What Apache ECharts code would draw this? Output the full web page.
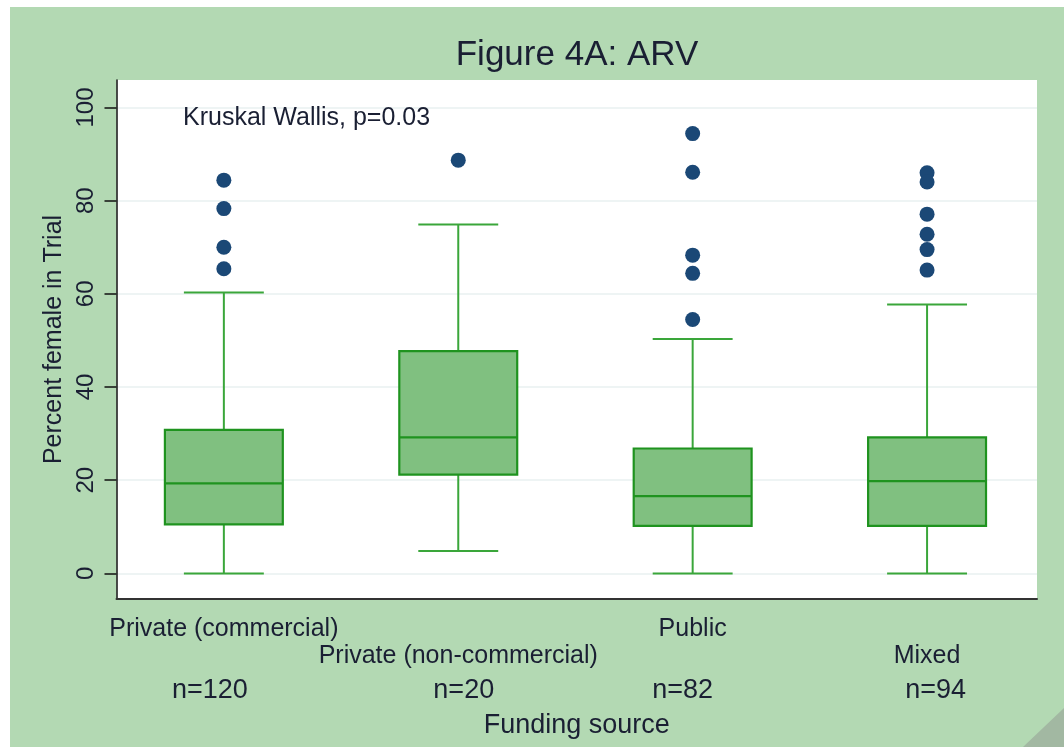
<!DOCTYPE html>
<html>
<head>
<meta charset="utf-8">
<script src="https://cdn.jsdelivr.net/npm/echarts@6/dist/echarts.min.js"></script>
<style>html,body{margin:0;padding:0;background:#fff}#c{width:1064px;height:747px}</style>
</head>
<body>
<div id="c"></div>
<script>
// ---- data ----
const categories = ['Private (commercial)', 'Private (non-commercial)', 'Public', 'Mixed'];
const nLabels = ['n=120', 'n=20', 'n=82', 'n=94'];
const boxMin = [0, 4.8, 0, 0];
const boxQ1 = [10.5, 21.2, 10.2, 10.2];
const boxMedian = [19.3, 29.2, 16.6, 19.8];
const boxQ3 = [30.8, 47.7, 26.8, 29.2];
const boxMax = [60.3, 74.9, 50.3, 57.7];
const outliersCommercial = [84.4, 78.3, 70.0, 65.4];
const outliersNonCommercial = [88.7];
const outliersPublic = [94.4, 86.1, 68.3, 64.4, 54.5];
const outliersMixed = [86.0, 84.0, 77.1, 72.8, 69.5, 65.1];
const yTicks = [0, 20, 40, 60, 80, 100];
const titleText = 'Figure 4A: ARV';
const noteText = 'Kruskal Wallis, p=0.03';
const yName = 'Percent female in Trial';
const xName = 'Funding source';

// ---- build ----
const positions = categories.map((c, i) => i + 1);
const boxData = categories.map((c, i) => [positions[i], boxMin[i], boxQ1[i], boxMedian[i], boxQ3[i], boxMax[i]]);
const outlierGroups = [outliersCommercial, outliersNonCommercial, outliersPublic, outliersMixed];
const outlierData = [];
outlierGroups.forEach((g, i) => g.forEach(v => outlierData.push([positions[i], v])));

const FONT = '"Liberation Sans", Arial, sans-serif';
const TXT = '#1a1f33';
const X_MIN = 0.542, X_MAX = 4.469;
const nPads = [[0, 28, 0, 0], [0, 0, 0, 11], [0, 20, 0, 0], [0, 0, 0, 17]];
const nRich = {};
nPads.forEach((p, i) => { nRich['n' + i] = { fontSize: 27, color: TXT, fontFamily: FONT, padding: p }; });

function renderBox(params, api) {
  const x = api.value(0);
  const pMin = api.coord([x, api.value(1)]);
  const pQ1 = api.coord([x, api.value(2)]);
  const pMed = api.coord([x, api.value(3)]);
  const pQ3 = api.coord([x, api.value(4)]);
  const pMax = api.coord([x, api.value(5)]);
  const bw = api.size([0.503, 0])[0];
  const cw = api.size([0.341, 0])[0];
  const wStyle = { stroke: '#3aa63a', lineWidth: 2 };
  const bStyle = { stroke: '#1f931f', lineWidth: 2.2 };
  return {
    type: 'group',
    children: [
      { type: 'line', shape: { x1: pMin[0], y1: pMin[1], x2: pQ1[0], y2: pQ1[1] }, style: wStyle },
      { type: 'line', shape: { x1: pQ3[0], y1: pQ3[1], x2: pMax[0], y2: pMax[1] }, style: wStyle },
      { type: 'line', shape: { x1: pMin[0] - cw / 2, y1: pMin[1], x2: pMin[0] + cw / 2, y2: pMin[1] }, style: wStyle },
      { type: 'line', shape: { x1: pMax[0] - cw / 2, y1: pMax[1], x2: pMax[0] + cw / 2, y2: pMax[1] }, style: wStyle },
      { type: 'rect', shape: { x: pQ3[0] - bw / 2, y: pQ3[1], width: bw, height: pQ1[1] - pQ3[1] },
        style: { fill: '#80c080', stroke: '#1f931f', lineWidth: 2.2 } },
      { type: 'line', shape: { x1: pMed[0] - bw / 2, y1: pMed[1], x2: pMed[0] + bw / 2, y2: pMed[1] }, style: bStyle }
    ]
  };
}

function labelAxis(values, margin, formatter, extra) {
  return Object.assign({
    type: 'value', min: X_MIN, max: X_MAX, position: 'bottom', offset: 0, gridIndex: 0,
    splitLine: { show: false },
    axisTick: { show: false },
    axisLine: { show: false },
    axisLabel: {
      customValues: values, margin: margin, formatter: formatter,
      fontSize: 25, color: TXT, fontFamily: FONT,
      showMinLabel: true, showMaxLabel: true, hideOverlap: false
    }
  }, extra || {});
}

const chart = echarts.init(document.getElementById('c'), null, { renderer: 'canvas' });
chart.setOption({
  backgroundColor: '#ffffff',
  animation: false,
  textStyle: { fontFamily: FONT },
  graphic: [
    { type: 'rect', z: -100, silent: true, shape: { x: 10, y: 7, width: 1054, height: 740 }, style: { fill: '#b3d9b3' } },
    { type: 'polygon', z: 100, silent: true, shape: { points: [[1023, 747], [1064, 708], [1064, 747]] }, style: { fill: '#a2b8a2' } },
    { type: 'text', z: 100, x: 577, y: 55, style: { text: titleText, fontSize: 35, fontFamily: FONT, fill: TXT, textAlign: 'center', textVerticalAlign: 'middle' } },
    { type: 'text', z: 100, x: 183, y: 118, style: { text: noteText, fontSize: 25, fontFamily: FONT, fill: TXT, textAlign: 'left', textVerticalAlign: 'middle' } }
  ],
  grid: { left: 116.5, right: 27, top: 80, bottom: 148, show: true, backgroundColor: '#ffffff', borderWidth: 0 },
  xAxis: [
    labelAxis([positions[0], positions[2]], 18, v => categories[Math.round(v) - 1], {
      axisLine: { show: true, onZero: false, lineStyle: { color: '#333333', width: 2 } },
      name: xName, nameLocation: 'middle', nameGap: 113,
      nameTextStyle: { fontSize: 27, color: TXT, fontFamily: FONT }
    }),
    labelAxis([positions[1], positions[3]], 45, v => categories[Math.round(v) - 1]),
    labelAxis(positions, 78, v => { const i = Math.round(v) - 1; return '{n' + i + '|' + nLabels[i] + '}'; })
  ],
  yAxis: {
    type: 'value', min: -5.5, max: 105.9,
    axisLine: { show: true, lineStyle: { color: '#111111', width: 1.5 } },
    axisTick: { show: true, customValues: yTicks, length: 12, lineStyle: { color: '#111111', width: 1.5 } },
    axisLabel: { customValues: yTicks, rotate: 90, fontSize: 24, color: TXT, margin: 18, fontFamily: FONT, showMinLabel: true, showMaxLabel: true },
    splitLine: { show: true, lineStyle: { color: '#e9f0f1', width: 1.5 } },
    name: yName, nameLocation: 'middle', nameGap: 49, nameRotate: 90,
    nameTextStyle: { fontSize: 25, color: TXT, fontFamily: FONT }
  },
  series: [
    { type: 'custom', renderItem: renderBox, data: boxData, xAxisIndex: 0, encode: { x: 0, y: [1, 2, 3, 4, 5] }, z: 2 },
    { type: 'scatter', data: outlierData, xAxisIndex: 0, symbol: 'circle', symbolSize: 15, itemStyle: { color: '#1b4876', opacity: 1 }, z: 3 }
  ]
});
// rich styles for the count row
chart.setOption({ xAxis: [{}, {}, { axisLabel: { rich: nRich } }] });
</script>
</body>
</html>
